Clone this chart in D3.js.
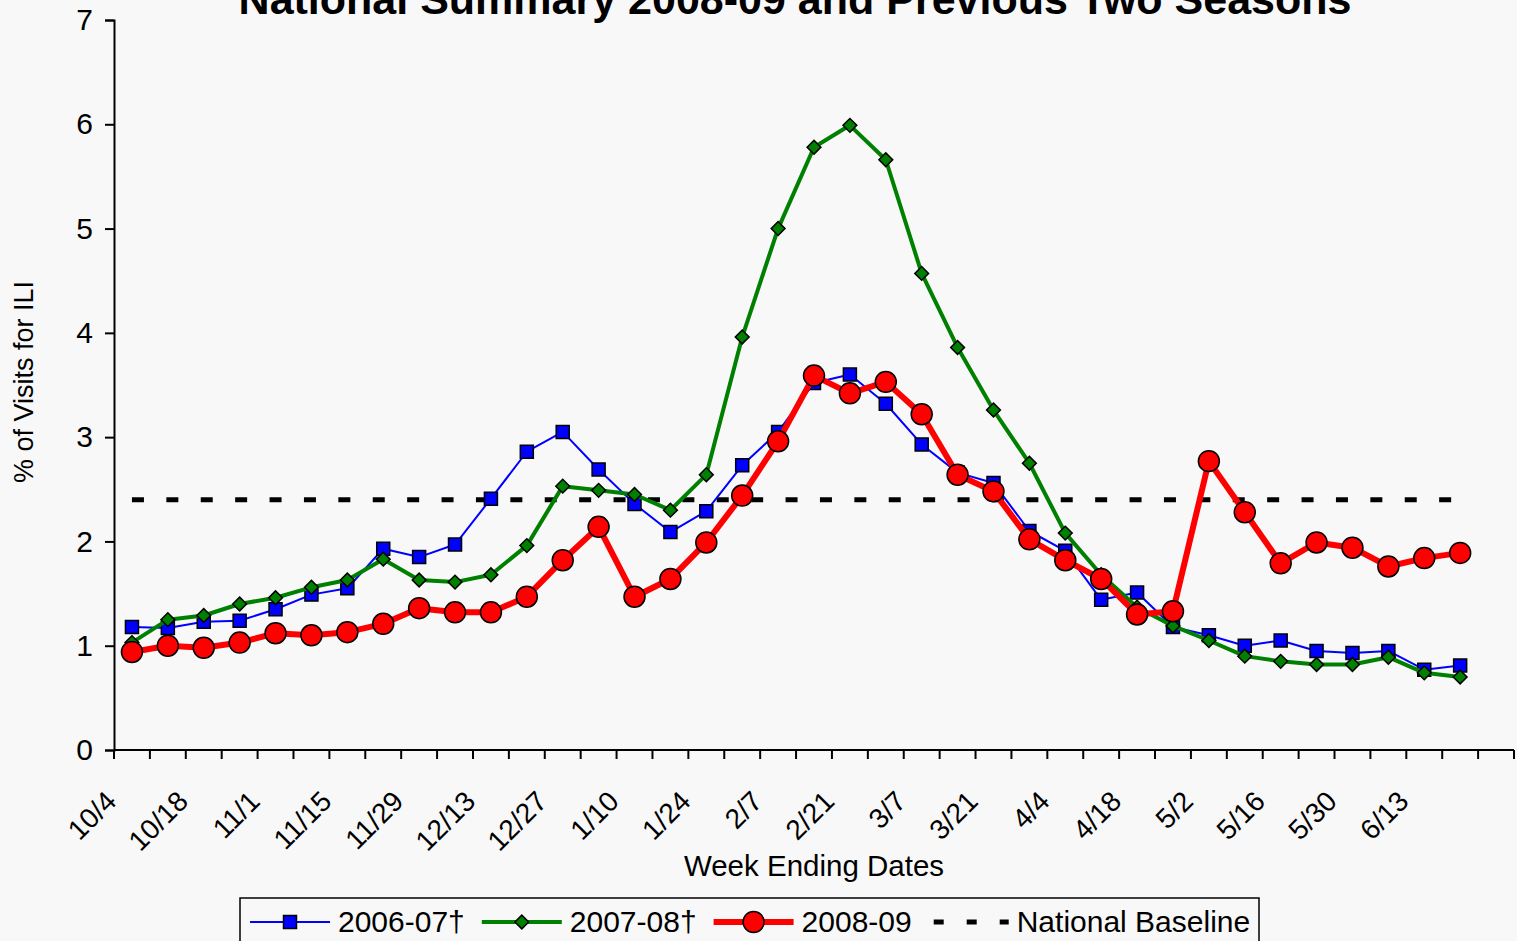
<!DOCTYPE html>
<html>
<head>
<meta charset="utf-8">
<script src="https://cdn.jsdelivr.net/npm/d3@7"></script>
<style>
  body { margin: 0; background: #f8f8f8; }
  svg { display: block; }
  text { font-family: "Liberation Sans", Arial, sans-serif; fill: #000; }
</style>
</head>
<body>
<svg id="chart" width="1517" height="941"></svg>
<script>
// week ending dates (39 weeks, last one has no data yet)
var weeks = ["10/4","10/11","10/18","10/25","11/1","11/8","11/15","11/22","11/29","12/6",
  "12/13","12/20","12/27","1/3","1/10","1/17","1/24","1/31","2/7","2/14",
  "2/21","2/28","3/7","3/14","3/21","3/28","4/4","4/11","4/18","4/25",
  "5/2","5/9","5/16","5/23","5/30","6/6","6/13","6/20","6/27"];

var s2006 = [1.18,1.17,1.23,1.24,1.35,1.49,1.55,1.93,1.85,1.97,
  2.41,2.86,3.05,2.69,2.36,2.09,2.29,2.73,3.05,3.52,
  3.60,3.32,2.93,2.66,2.56,2.10,1.91,1.44,1.51,1.18,
  1.10,1.00,1.05,0.95,0.93,0.95,0.77,0.81];

var s2007 = [1.03,1.25,1.29,1.40,1.46,1.56,1.63,1.83,1.63,1.61,
  1.68,1.96,2.53,2.49,2.45,2.30,2.64,3.96,5.00,5.78,
  5.99,5.66,4.57,3.86,3.26,2.75,2.08,1.68,1.37,1.19,
  1.05,0.90,0.85,0.82,0.82,0.89,0.74,0.70];

var s2008 = [0.94,1.00,0.98,1.03,1.12,1.10,1.13,1.21,1.36,1.32,
  1.32,1.47,1.82,2.14,1.47,1.64,1.99,2.44,2.96,3.59,
  3.42,3.53,3.22,2.64,2.48,2.02,1.82,1.64,1.30,1.33,
  2.77,2.28,1.79,1.99,1.94,1.76,1.84,1.89];

var baselineValue = 2.4;
var yTicks = [0,1,2,3,4,5,6,7];

var svg = d3.select("#chart");

var x = d3.scaleBand().domain(weeks).range([114, 1514]).paddingInner(0).paddingOuter(0);
var y = d3.scaleLinear().domain([0, 7]).range([750, 20]);
var cx = function(d, i) { return x(weeks[i]) + x.bandwidth() / 2; };

// title (partly cut off at the top, as in the original)
svg.append("text")
  .attr("x", 795).attr("y", 14)
  .attr("text-anchor", "middle")
  .style("font-size", "43px").style("font-weight", "bold")
  .text("National Summary 2008-09 and Previous Two Seasons");

// y axis
var yAxis = svg.append("g")
  .attr("transform", "translate(114,0)")
  .call(d3.axisLeft(y).tickValues(yTicks).tickSize(9).tickPadding(12).tickFormat(d3.format("d")));
yAxis.select(".domain").attr("stroke", "#000").attr("stroke-width", 2);
yAxis.selectAll(".tick line").attr("stroke", "#000").attr("stroke-width", 2);
yAxis.selectAll(".tick text").style("font-size", "30px").style("font-family", "Liberation Sans, Arial, sans-serif");

// x axis: line, ticks at band boundaries, every other label
var xg = svg.append("g");
xg.append("line")
  .attr("x1", x.range()[0]).attr("x2", x.range()[1])
  .attr("y1", y(0)).attr("y2", y(0))
  .attr("stroke", "#000").attr("stroke-width", 2);
var bounds = weeks.map(function(w) { return x(w); }).concat([x.range()[1]]);
xg.selectAll("line.tk").data(bounds).enter().append("line")
  .attr("class", "tk")
  .attr("x1", function(d) { return d; }).attr("x2", function(d) { return d; })
  .attr("y1", y(0)).attr("y2", y(0) + 9)
  .attr("stroke", "#000").attr("stroke-width", 2);
// labels only on weeks that have data
var labelled = weeks.filter(function(w, i) { return i % 2 === 0 && i < s2008.length; });
xg.selectAll("text").data(labelled).enter().append("text")
  .attr("text-anchor", "end")
  .attr("transform", function(d) {
    return "translate(" + (x(d) + x.bandwidth() / 2 - 14) + "," + (y(0) + 53) + ") rotate(-45)";
  })
  .style("font-size", "28px")
  .text(function(d) { return d; });

// axis titles
svg.append("text")
  .attr("x", 814).attr("y", 876)
  .attr("text-anchor", "middle")
  .style("font-size", "29.5px")
  .text("Week Ending Dates");
svg.append("text")
  .attr("transform", "translate(33,382) rotate(-90)")
  .attr("text-anchor", "middle")
  .style("font-size", "27px")
  .text("% of Visits for ILI");

// national baseline
var baseline = s2008.map(function() { return baselineValue; });
var line = d3.line().x(cx).y(function(d) { return y(d); });

svg.append("path").datum(baseline)
  .attr("d", line)
  .attr("fill", "none").attr("stroke", "#000")
  .attr("stroke-width", 5).attr("stroke-dasharray", "12,22.4");

var series = [
  { data: s2006, color: "#0000ff", width: 2, symbol: d3.symbolSquare, size: 169, rot: 0 },
  { data: s2007, color: "#008000", width: 4, symbol: d3.symbolSquare, size: 95, rot: 45 },
  { data: s2008, color: "#ff0000", width: 6, symbol: d3.symbolCircle, size: 346, rot: 0 }
];

series.forEach(function(s) {
  svg.append("path").datum(s.data)
    .attr("d", line)
    .attr("fill", "none").attr("stroke", s.color)
    .attr("stroke-width", s.width).attr("stroke-linejoin", "round");
  svg.append("g").selectAll("path").data(s.data).enter().append("path")
    .attr("transform", function(d, i) {
      return "translate(" + cx(d, i) + "," + y(d) + ") rotate(" + s.rot + ")";
    })
    .attr("d", d3.symbol().type(s.symbol).size(s.size))
    .attr("fill", s.color).attr("stroke", "#000").attr("stroke-width", 1.5);
});

// legend
var legendItems = [
  { label: "2006-07\u2020", s: series[0] },
  { label: "2007-08\u2020", s: series[1] },
  { label: "2008-09", s: series[2] },
  { label: "National Baseline", s: null }
];
var lg = svg.append("g");
lg.append("rect")
  .attr("x", 240).attr("y", 898).attr("width", 1019).attr("height", 70)
  .attr("fill", "#f8f8f8").attr("stroke", "#000").attr("stroke-width", 1.5);
var lx = 250, ly = 922;
legendItems.forEach(function(it) {
  if (it.s) {
    lg.append("line").attr("x1", lx).attr("x2", lx + 80).attr("y1", ly).attr("y2", ly)
      .attr("stroke", it.s.color).attr("stroke-width", it.s.width);
    lg.append("path").attr("transform", "translate(" + (lx + 40) + "," + ly + ") rotate(" + it.s.rot + ")")
      .attr("d", d3.symbol().type(it.s.symbol).size(it.s.size))
      .attr("fill", it.s.color).attr("stroke", "#000").attr("stroke-width", 1.5);
  } else {
    lg.append("line").attr("x1", lx + 5).attr("x2", lx + 80).attr("y1", ly).attr("y2", ly)
      .attr("stroke", "#000").attr("stroke-width", 5).attr("stroke-dasharray", "10,23");
  }
  var t = lg.append("text").attr("x", lx + 88).attr("y", ly + 10)
    .style("font-size", "30px").text(it.label);
  lx = lx + 88 + t.node().getComputedTextLength() + 17;
});
</script>
</body>
</html>
